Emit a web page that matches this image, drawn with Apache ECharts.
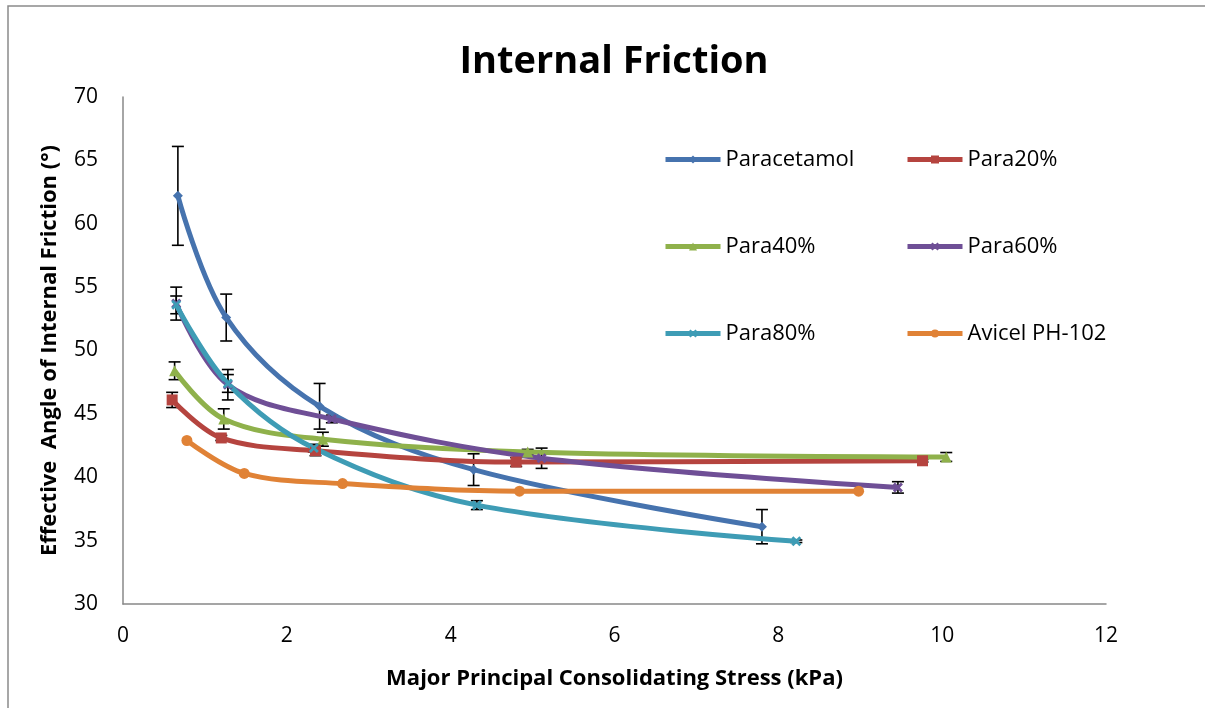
<!DOCTYPE html>
<html>
<head>
<meta charset="utf-8">
<script src="https://cdn.jsdelivr.net/npm/echarts@6/dist/echarts.min.js"></script>
<style>html,body{margin:0;padding:0;background:#fff}#c{width:1205px;height:708px}</style>
</head>
<body>
<div id="c"></div>
<script>
const seriesNames = ['Paracetamol', 'Para20%', 'Para40%', 'Para60%', 'Para80%', 'Avicel PH-102'];

const paracetamolX = [0.67, 1.26, 2.40, 4.28, 7.80];
const paracetamolY = [62.2, 52.6, 45.6, 40.6, 36.1];
const paracetamolErr = [3.9, 1.85, 1.8, 1.25, 1.35];

const para20X = [0.60, 1.20, 2.35, 4.80, 9.76];
const para20Y = [46.1, 43.1, 42.1, 41.2, 41.3];
const para20Err = [0.6, 0.2, 0.4, 0.35, 0.1];

const para40X = [0.63, 1.23, 2.44, 4.94, 10.05];
const para40Y = [48.4, 44.6, 43.0, 42.0, 41.6];
const para40Err = [0.7, 0.8, 0.55, 0.2, 0.35];

const para60X = [0.65, 1.28, 2.55, 5.11, 9.46];
const para60Y = [53.7, 47.3, 44.6, 41.5, 39.2];
const para60Err = [1.3, 1.2, 0.3, 0.8, 0.45];

const para80X = [0.65, 1.28, 2.33, 4.32, 8.22];
const para80Y = [53.6, 47.4, 42.3, 37.8, 34.95];
const para80Err = [0.7, 0.7, 0.3, 0.35, 0.1];

const avicelX = [0.78, 1.48, 2.68, 4.84, 8.98];
const avicelY = [42.9, 40.3, 39.5, 38.9, 38.9];
const avicelErr = [0, 0, 0, 0, 0];

const xTicks = [0, 2, 4, 6, 8, 10, 12];
const yTicks = [30, 35, 40, 45, 50, 55, 60, 65, 70];

const allX = [paracetamolX, para20X, para40X, para60X, para80X, avicelX];
const allY = [paracetamolY, para20Y, para40Y, para60Y, para80Y, avicelY];
const allErr = [paracetamolErr, para20Err, para40Err, para60Err, para80Err, avicelErr];

const colors = ['#4673AE', '#B5443F', '#8FB14B', '#6F4F96', '#3E9CB5', '#E08236'];
const xShape = 'path://M0,2L2,0L5,3L8,0L10,2L7,5L10,8L8,10L5,7L2,10L0,8L3,5Z';
const symbols = ['diamond', 'rect', 'triangle', xShape, xShape, 'circle'];
const symbolSizes = [10, 11, 11, 10, 10, 11];

const FONT = '"Open Sans", sans-serif';

const series = [];
seriesNames.forEach((name, i) => {
  const errData = allX[i].map((x, k) => [x, allY[i][k], allErr[i][k]]).filter(d => d[2] > 0);
  if (errData.length) {
    series.push({
      type: 'custom',
      name: name + ' err',
      data: errData,
      z: 1,
      silent: true,
      renderItem: function (params, api) {
        const x = api.value(0), y = api.value(1), e = api.value(2);
        const t = api.coord([x, y + e]);
        const b = api.coord([x, y - e]);
        const w = 6;
        const st = { stroke: '#000', lineWidth: 1.6 };
        return {
          type: 'group',
          children: [
            { type: 'line', shape: { x1: t[0], y1: t[1], x2: b[0], y2: b[1] }, style: st },
            { type: 'line', shape: { x1: t[0] - w, y1: t[1], x2: t[0] + w, y2: t[1] }, style: st },
            { type: 'line', shape: { x1: b[0] - w, y1: b[1], x2: b[0] + w, y2: b[1] }, style: st }
          ]
        };
      }
    });
  }
  series.push({
    type: 'line',
    name: name,
    data: allX[i].map((x, k) => [x, allY[i][k]]),
    smooth: 0.35,
    z: 3,
    symbol: symbols[i],
    symbolSize: symbolSizes[i],
    showSymbol: true,
    lineStyle: { width: 5, color: colors[i] },
    itemStyle: { color: colors[i] },
    emphasis: { disabled: true }
  });
});

const legendCommon = {
  orient: 'vertical',
  itemWidth: 55,
  itemHeight: 10,
  itemGap: 64,
  lineStyle: { width: 5 },
  textStyle: { fontFamily: FONT, fontSize: 22, color: '#000', lineHeight: 23, padding: 0 },
  selectedMode: false,
  padding: 0
};

const option = {
  animation: false,
  color: colors,
  title: {
    text: 'Internal Friction',
    left: 609,
    textAlign: 'center',
    top: 38,
    textStyle: { fontFamily: FONT, fontSize: 38, fontWeight: 'bold', color: '#000' }
  },
  legend: [
    Object.assign({ left: 663, top: 148, data: ['Paracetamol', 'Para40%', 'Para80%'] }, legendCommon),
    Object.assign({ left: 905, top: 148, data: ['Para20%', 'Para60%', 'Avicel PH-102'] }, legendCommon)
  ],
  grid: { left: 123, top: 97, right: 99, bottom: 104, containLabel: false },
  xAxis: {
    type: 'value',
    min: xTicks[0],
    max: xTicks[xTicks.length - 1],
    interval: 2,
    name: 'Major Principal Consolidating Stress (kPa)',
    nameLocation: 'middle',
    nameGap: 64,
    nameTextStyle: { fontFamily: FONT, fontSize: 22, fontWeight: 'bold', color: '#000' },
    axisLine: { lineStyle: { color: '#888', width: 1.5 } },
    axisTick: { show: false },
    splitLine: { show: false },
    axisLabel: { fontFamily: FONT, fontSize: 21, color: '#000', margin: 22 }
  },
  yAxis: {
    type: 'value',
    min: yTicks[0],
    max: yTicks[yTicks.length - 1],
    interval: 5,
    name: 'Effective  Angle of Internal Friction (°)',
    nameLocation: 'middle',
    nameGap: 62,
    nameTextStyle: { fontFamily: FONT, fontSize: 22, fontWeight: 'bold', color: '#000' },
    axisLine: { show: true, lineStyle: { color: '#888', width: 1.5 } },
    axisTick: { show: false },
    splitLine: { show: false },
    axisLabel: { fontFamily: FONT, fontSize: 21, color: '#000', margin: 25 }
  },
  graphic: [
    { type: 'rect', shape: { x: 8, y: 6, width: 1240, height: 760 }, style: { fill: 'none', stroke: '#8a8a8a', lineWidth: 1.5 }, silent: true }
  ],
  series: series
};

const chart = echarts.init(document.getElementById('c'), null, { renderer: 'canvas' });
chart.setOption(option);
</script>
</body>
</html>
